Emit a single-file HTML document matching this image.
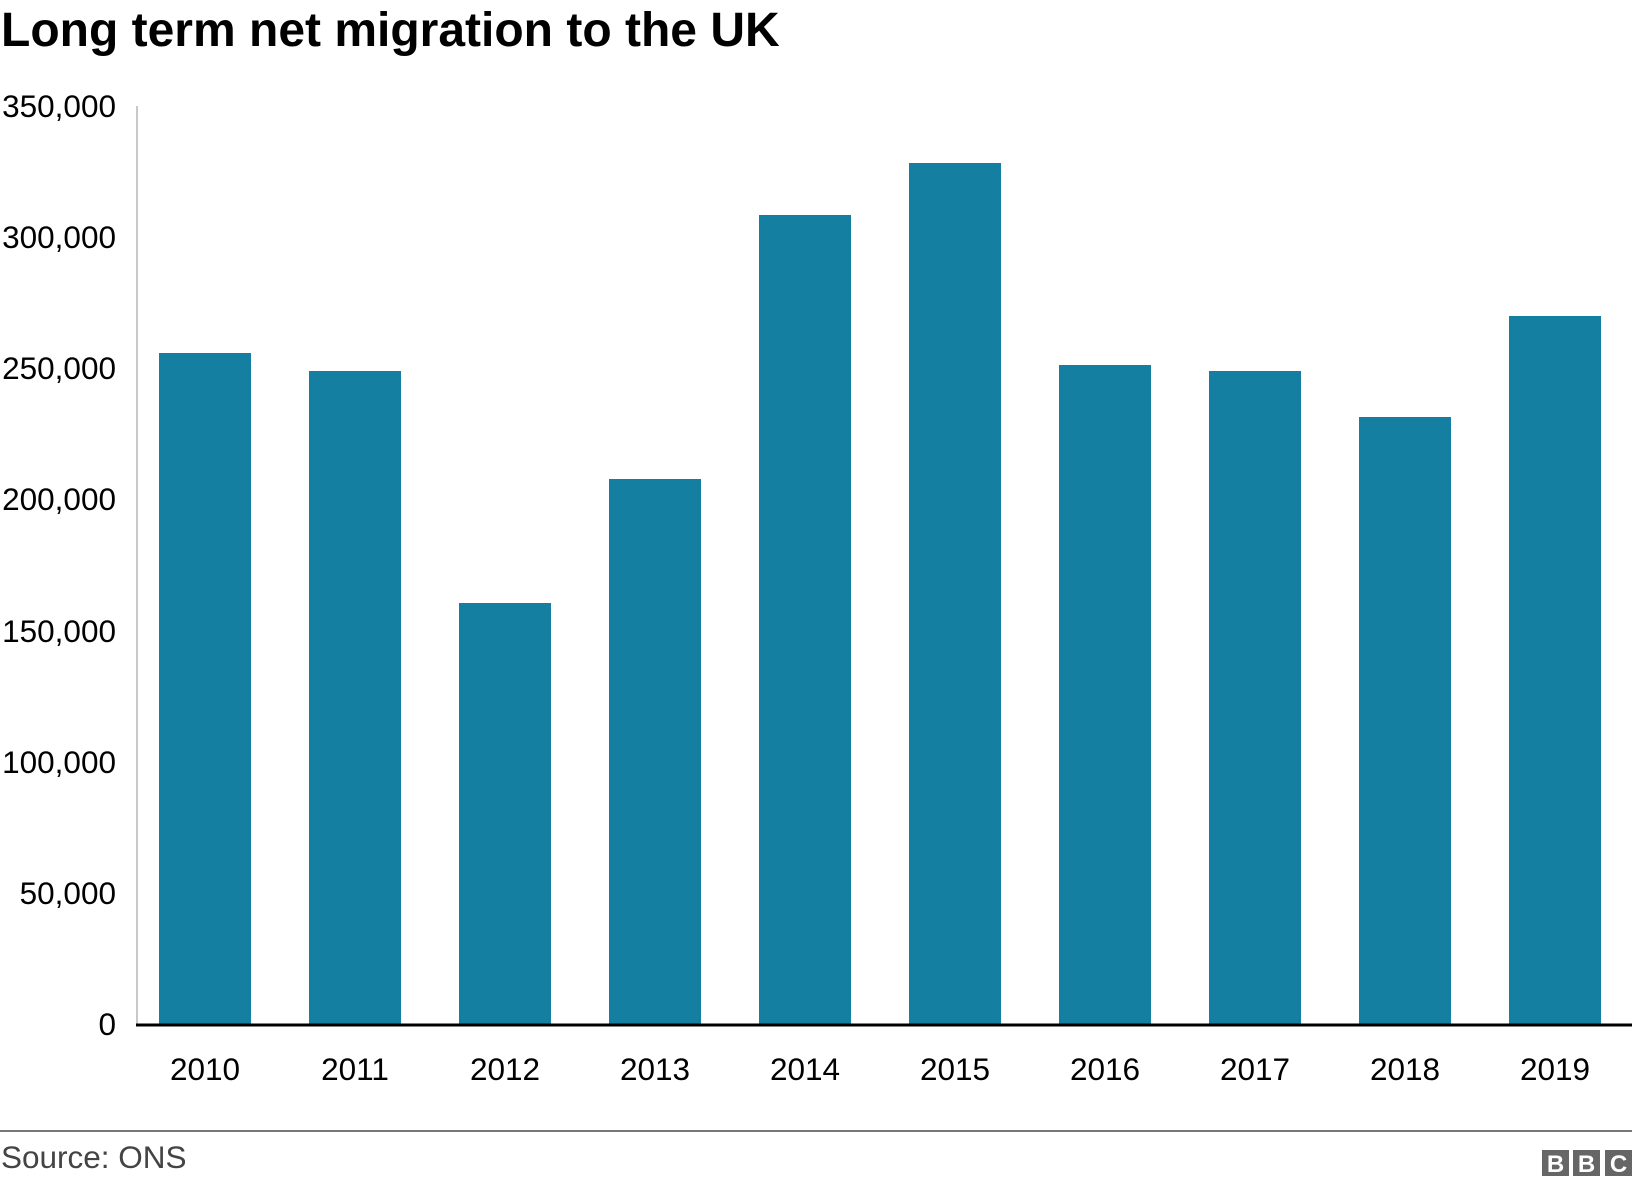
<!DOCTYPE html>
<html><head><meta charset="utf-8"><style>
html,body{margin:0;padding:0;background:#fff;}
svg{display:block;font-family:"Liberation Sans",Arial,sans-serif;}
</style></head><body>
<svg width="1632" height="1186" viewBox="0 0 1632 1186" xmlns="http://www.w3.org/2000/svg">
<text x="1" y="46" font-size="48" font-weight="bold" fill="#000">Long term net migration to the UK</text>
<line x1="137" y1="106" x2="137" y2="1024" stroke="#c8c8c8" stroke-width="2"/>
<g font-size="31.5" fill="#000" text-anchor="end">
<text x="116" y="117">350,000</text>
<text x="116" y="248">300,000</text>
<text x="116" y="379">250,000</text>
<text x="116" y="510">200,000</text>
<text x="116" y="642">150,000</text>
<text x="116" y="773">100,000</text>
<text x="116" y="904">50,000</text>
<text x="116" y="1035">0</text>
</g>
<g fill="#157fa1">
<rect x="159" y="353" width="92" height="671"/>
<rect x="309" y="371" width="92" height="653"/>
<rect x="459" y="603" width="92" height="421"/>
<rect x="609" y="479" width="92" height="545"/>
<rect x="759" y="215" width="92" height="809"/>
<rect x="909" y="163" width="92" height="861"/>
<rect x="1059" y="365" width="92" height="659"/>
<rect x="1209" y="371" width="92" height="653"/>
<rect x="1359" y="417" width="92" height="607"/>
<rect x="1509" y="316" width="92" height="708"/>
</g>
<line x1="136" y1="1025" x2="1632" y2="1025" stroke="#000" stroke-width="3"/>
<g font-size="31.5" fill="#000" text-anchor="middle">
<text x="205" y="1080">2010</text>
<text x="355" y="1080">2011</text>
<text x="505" y="1080">2012</text>
<text x="655" y="1080">2013</text>
<text x="805" y="1080">2014</text>
<text x="955" y="1080">2015</text>
<text x="1105" y="1080">2016</text>
<text x="1255" y="1080">2017</text>
<text x="1405" y="1080">2018</text>
<text x="1555" y="1080">2019</text>
</g>
<line x1="0" y1="1131" x2="1632" y2="1131" stroke="#777" stroke-width="2"/>
<text x="1" y="1168" font-size="31.5" fill="#444">Source: ONS</text>
<g fill="#666">
<rect x="1542" y="1150" width="27" height="26"/>
<rect x="1573" y="1150" width="27" height="26"/>
<rect x="1605" y="1150" width="27" height="26"/>
</g>
<g font-size="24" font-weight="bold" fill="#fff" text-anchor="middle">
<text x="1555.5" y="1172">B</text>
<text x="1586.5" y="1172">B</text>
<text x="1618.5" y="1172">C</text>
</g>
</svg>
</body></html>
